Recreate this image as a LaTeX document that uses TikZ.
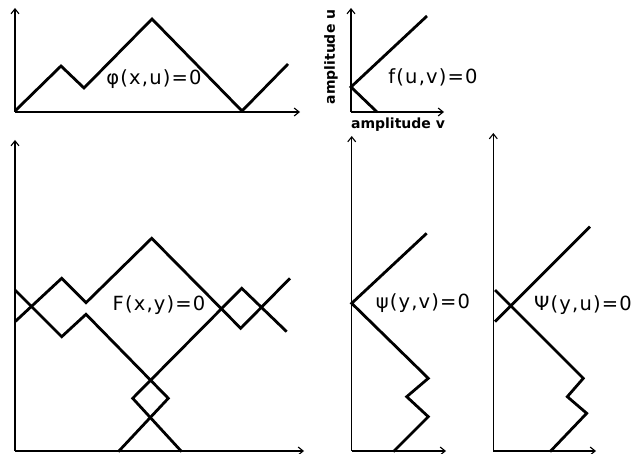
\documentclass[tikz,border=0pt]{standalone}
\usepackage{fontspec}
\newfontfamily\labfont[LetterSpace=6]{DejaVu Sans}
\newfontfamily\ampfont{DejaVu Sans}
\usetikzlibrary{arrows.meta}
\begin{document}
\begin{tikzpicture}[x=1pt,y=-1pt,
  axis/.style={line width=1.1pt,-{Straight Barb[length=5pt,width=8pt]}},
  curve/.style={line width=2.8pt,line join=miter,line cap=butt},
  lab/.style={font=\labfont\fontsize{19.5}{22}\selectfont,inner sep=0pt},
  amp/.style={font=\ampfont\bfseries\fontsize{14}{16}\selectfont,inner sep=0pt}]
\useasboundingbox (0,0) rectangle (631,454);
% ---- top-left: phi(x,u)=0
\coordinate (o1) at (15,112);
\draw[axis] (o1) -- (15,8);
\draw[axis] (o1) -- (300,112);
\draw[curve] (15,111) -- (61,66) -- (84,88) -- (152,19) -- (242,111) -- (288,64);
\node[lab] (l1) at (154,79) {φ(x,u)=0};
% ---- top-right: f(u,v)=0
\coordinate (o2) at (351,112);
\draw[axis] (o2) -- (351,8);
\draw[axis] (o2) -- (444,112);
\draw[curve] (427,16) -- (351,87) -- (377,112);
\node[lab] (l2) at (433,77) {f(u,v)=0};
\node[amp] (au) at (331,57) [rotate=90] {amplitude u};
\node[amp] (av) at (398,125) {amplitude v};
% ---- bottom-left: F(x,y)=0
\coordinate (o3) at (15,451);
\draw[axis] (o3) -- (15,140);
\draw[axis] (o3) -- (304,451);
\draw[curve] (15,321.7) -- (61.7,278.3) -- (86,302.7) -- (151.7,238.3) -- (240.7,328.3) -- (290,278.3);
\draw[curve] (15,290) -- (61.7,336.7) -- (86,314.3) -- (168.3,398.3) -- (118.3,451.7);
\draw[curve] (286.7,331.7) -- (241.7,288.3) -- (132.7,398.3) -- (181.7,451.7);
\node[lab] (l3) at (159,305) {F(x,y)=0};
% ---- bottom-middle: psi(y,v)=0
\coordinate (o4) at (351.7,451);
\draw[axis] (o4) -- (351.7,136);
\draw[axis] (o4) -- (446,451);
\draw[curve] (426.7,233.3) -- (351.7,303.3) -- (428.3,378.3) -- (406.7,396.7) -- (428.3,416.7) -- (393.3,451.7);
\node[lab] (l4) at (423,303) {ψ(y,v)=0};
% ---- bottom-right: Psi(y,u)=0
\coordinate (o5) at (493.3,451);
\draw[axis] (o5) -- (493.3,133);
\draw[axis] (o5) -- (596,451);
\draw[curve] (590,226.7) -- (495,321.7);
\draw[curve] (495,290) -- (583.3,378.3) -- (567.3,396.7) -- (586.7,413.3) -- (550,451.7);
\node[lab,anchor=west] (l5) at (534,305) {Ψ(y,u)=0};
\end{tikzpicture}
\end{document}
